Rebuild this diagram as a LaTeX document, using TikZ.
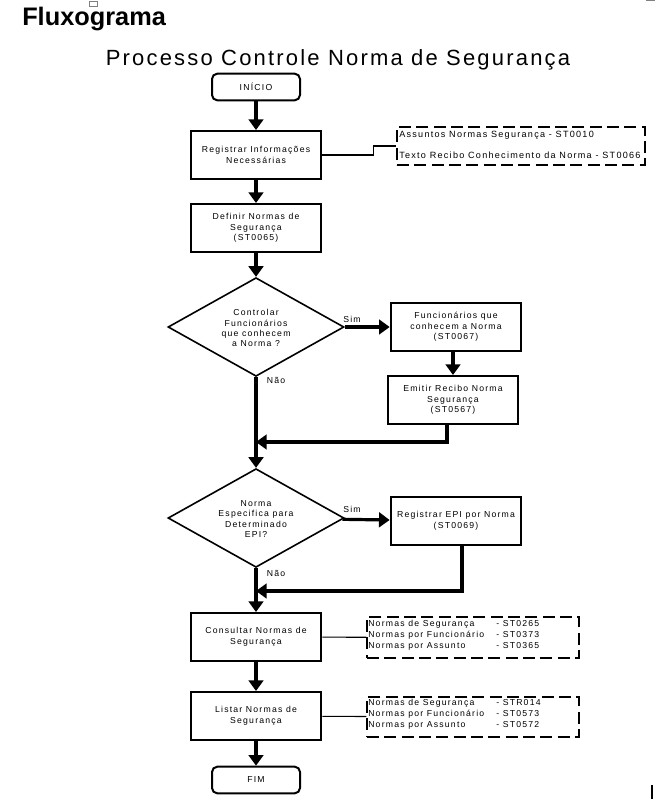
\documentclass[tikz,border=0pt]{standalone}
\usepackage{fontspec}
\setmainfont{Liberation Sans}
\newfontfamily\boxfont[LetterSpace=14]{Liberation Sans}
\newfontfamily\titlefont[LetterSpace=10]{Liberation Sans}
\usetikzlibrary{arrows.meta,shapes.geometric}
\def\notelinha#1#2{\makebox[96pt][l]{#1}#2}
\tikzset{
	etapa/.style={draw, line width=1.5pt, minimum width=98pt, minimum height=36pt, inner sep=1pt, align=center, font=\boxfont\fontsize{6.5}{7.9}\selectfont},
	terminal/.style={draw, line width=1.5pt, rounded corners=4pt, minimum width=66pt, minimum height=20pt, font=\boxfont\fontsize{6.5}{7.9}\selectfont},
	decisao/.style={draw, diamond, line width=1.2pt, inner sep=0pt, minimum width=132pt, minimum height=74pt},
	texto/.style={inner sep=0pt, align=center, font=\boxfont\fontsize{6.5}{7.6}\selectfont},
	nota/.style={draw, dash pattern=on 9pt off 4pt, line width=0.8pt, inner sep=0pt},
	fluxo/.style={line width=2.4pt, -{Triangle[length=8pt,width=11pt]}},
	ligacao/.style={line width=0.8pt}
}

\begin{document}
\begin{tikzpicture}[x=0.75pt,y=-0.75pt]
			%%%%% START %%%%%
			\useasboundingbox (0,0) rectangle (661,799);
			
			\draw[gray] (89,1) rectangle (97,6);
			\draw[gray, line width=0.8pt] (646,0.5) -- (655,0.5);
			\draw[line width=0.8pt] (652,785) -- (652,799);
			
			\node[anchor=base west, inner sep=0pt] (cabecalho) at (22,26) {\fontsize{19}{22}\selectfont\bfseries Fluxograma};
			\node[anchor=base, inner sep=0pt] (titulo) at (338,65) {\titlefont\fontsize{16.5}{19}\selectfont Processo Controle Norma de Segurança};
			
			\node[terminal] (inicio) at (256,87) {INÍCIO};
			\node[etapa] (registrar) at (256,155) {Registrar Informações\\Necessárias};
			\node[etapa] (definir) at (256,228) {Definir Normas de\\Segurança\\(ST0065)};
			
			\node[decisao] (dec1) at (256,327) {};
			\node[texto] (dec1txt) at (256,328) {Controlar\\Funcionários\\que conhecem\\a Norma ?};
			\node[etapa] (func) at (456,327) {Funcionários que\\conhecem a Norma\\(ST0067)};
			\node[etapa] (emitir) at (453,400) {Emitir Recibo Norma\\Segurança\\(ST0567)};
			\coordinate (j1) at (256,442);
			
			\node[decisao] (dec2) at (256,518) {};
			\node[texto] (dec2txt) at (256,519) {Norma\\Especifica para\\Determinado\\EPI?};
			\node[etapa] (regepi) at (456,521) {Registrar EPI por Norma\\(ST0069)};
			\coordinate (j2) at (256,591);
			
			\node[etapa] (consultar) at (256,637) {Consultar Normas de\\Segurança};
			\node[etapa] (listar) at (256,716) {Listar Normas de\\Segurança};
			\node[terminal] (fim) at (256,780) {FIM};
			
			% labels
			\node[texto] (sim1) at (352,319) {Sim};
			\node[texto] (nao1) at (276,380) {Não};
			\node[texto] (sim2) at (352,509) {Sim};
			\node[texto] (nao2) at (276,573) {Não};
			
			% notes
			\node[nota, minimum width=186pt, minimum height=28.5pt] (note1) at (521,146) {};
			\node[texto, anchor=west, align=left, font=\boxfont\fontsize{6.8}{15.75}\selectfont] (note1txt) at (399,145) {Assuntos Normas Segurança - ST0010\\Texto Recibo Conhecimento da Norma - ST0066};
			\node[nota, minimum width=159pt, minimum height=30.75pt] (note2) at (473,637.5) {};
			\node[texto, anchor=west, align=left, font=\boxfont\fontsize{6.5}{8.1}\selectfont] (note2txt) at (368,635) {\notelinha{Normas de Segurança}{- ST0265}\\\notelinha{Normas por Funcionário}{- ST0373}\\\notelinha{Normas por Assunto}{- ST0365}};
			\node[nota, minimum width=159pt, minimum height=30pt] (note3) at (473,717) {};
			\node[texto, anchor=west, align=left, font=\boxfont\fontsize{6.5}{8.1}\selectfont] (note3txt) at (368,714) {\notelinha{Normas de Segurança}{- STR014}\\\notelinha{Normas por Funcionário}{- ST0573}\\\notelinha{Normas por Assunto}{- ST0572}};
			
			% flow
			\draw[fluxo] (inicio) -- (registrar);
			\draw[fluxo] (registrar) -- (definir);
			\draw[fluxo] (definir) -- (dec1);
			\draw[fluxo] (dec1) -- (func);
			\draw[fluxo] (emitir.north |- func.south) -- (emitir);
			\draw[fluxo] ([xshift=-4.5pt]emitir.south) |- (j1);
			\draw[fluxo] (dec1) -- (dec2);
			\draw[fluxo] (dec2) -- (regepi);
			\draw[fluxo] ([xshift=4.5pt]regepi.south) |- (j2);
			\draw[fluxo] (dec2) -- (consultar);
			\draw[fluxo] (consultar) -- (listar);
			\draw[fluxo] (listar) -- (fim);
			
			\draw[ligacao] (registrar.east) -- ++(51,0) |- (note1.west);
			\draw[ligacao] (consultar) -- (note2);
			\draw[ligacao] (listar) -- (note3);
			
			%%%%% END %%%%%
\end{tikzpicture}
\end{document}
